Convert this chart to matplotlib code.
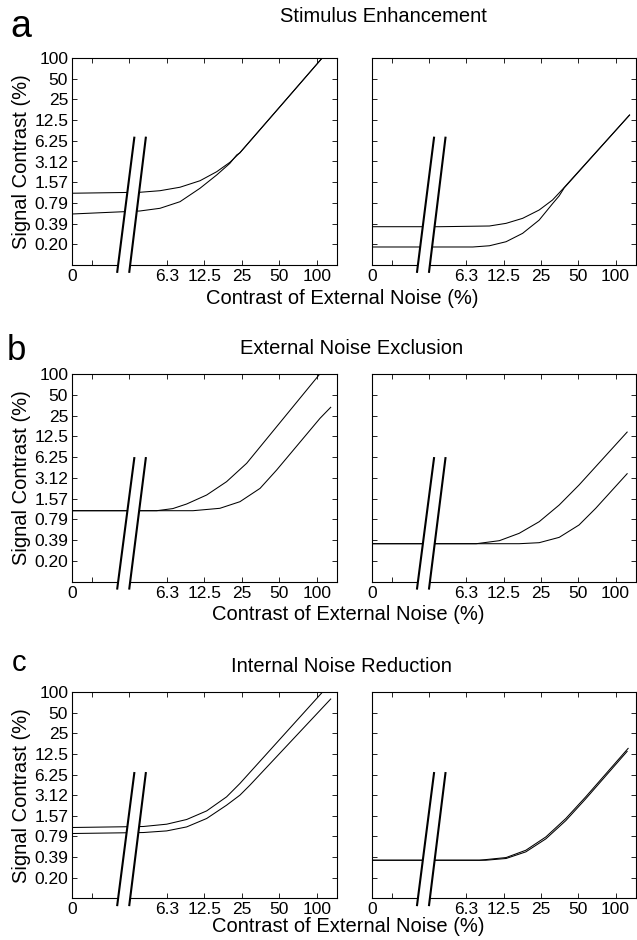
import matplotlib
matplotlib.use("Agg")
import matplotlib.pyplot as plt
from matplotlib.patches import Polygon
from matplotlib.ticker import NullLocator, FixedLocator, FixedFormatter

plt.rcParams['font.family'] = ['Liberation Sans', 'DejaVu Sans']

# ---------------- data ----------------
x_ticks = [1.092, 1.5625, 3.125, 6.25, 12.5, 25, 50, 100]
x_tick_labels = ["0", "", "", "6.3", "12.5", "25", "50", "100"]
y_ticks = [100, 50, 25, 12.5, 6.25, 3.125, 1.5625, 0.78125, 0.390625, 0.1953125]
y_tick_labels = ["100", "50", "25", "12.5", "6.25", "3.12", "1.57", "0.79", "0.39", "0.20"]

row_titles = ["Stimulus Enhancement", "External Noise Exclusion", "Internal Noise Reduction"]
row_letters = ["a", "b", "c"]
x_label = "Contrast of External Noise (%)"
y_label = "Signal Contrast (%)"

# row a
a_left_x1 = [1.09, 3.81, 5.52, 7.99, 11.56, 15.75, 20.1, 24.2, 56.4, 129.5]
a_left_y1 = [1.08, 1.115, 1.175, 1.32, 1.64, 2.22, 3.04, 4.2, 24.5, 139]
a_left_x2 = [1.09, 3.81, 5.52, 7.99, 11.56, 15.75, 20.1, 22.8, 24.2, 56.4, 129.5]
a_left_y2 = [0.539, 0.596, 0.652, 0.813, 1.274, 1.99, 2.94, 3.89, 4.18, 24.4, 139]
a_right_x1 = [1.09, 3.81, 9.61, 13.09, 17.8, 24.2, 31.0, 37.3, 129.5]
a_right_y1 = [0.352, 0.352, 0.3605, 0.394, 0.466, 0.616, 0.861, 1.23, 14.8]
a_right_x2 = [1.09, 7.06, 9.61, 13.09, 17.8, 24.2, 31.0, 35.1, 38.5, 129.5]
a_right_y2 = [0.1785, 0.1785, 0.186, 0.213, 0.282, 0.44, 0.76, 0.99, 1.29, 14.8]

# row b
b_left_x1 = [1.09, 5.19, 7.0, 9.04, 13.09, 18.9, 27.4, 104.3, 129.5]
b_left_y1 = [1.044, 1.044, 1.12, 1.306, 1.764, 2.75, 5.08, 96.7, 155.9]
b_left_x2 = [1.09, 10.16, 16.7, 24.2, 35.1, 47.7, 106.3, 129.5]
b_left_y2 = [1.044, 1.044, 1.131, 1.41, 2.2, 4.06, 22.8, 32.9]
b_right_x1 = [1.09, 7.52, 11.56, 16.7, 24.2, 35.1, 50.7, 123.9]
b_right_y1 = [0.347, 0.347, 0.384, 0.491, 0.723, 1.263, 2.46, 14.4]
b_right_x2 = [1.09, 16.7, 24.2, 35.1, 50.7, 69.1, 123.9]
b_right_y2 = [0.347, 0.347, 0.359, 0.429, 0.648, 1.13, 3.59]

# row c
c_left_x1 = [1.09, 4.06, 6.25, 9.04, 13.09, 18.9, 24.2, 103, 129.5]
c_left_y1 = [1.054, 1.09, 1.178, 1.379, 1.842, 2.95, 4.63, 85.4, 135.4]
c_left_x2 = [1.09, 4.06, 6.25, 9.04, 13.09, 18.9, 24.2, 29.1, 129.5]
c_left_y2 = [0.861, 0.89, 0.94, 1.075, 1.427, 2.23, 3.125, 4.37, 79]
c_right_x1 = [1.09, 7.99, 13.09, 18.9, 27.4, 39.7, 57.4, 126.2]
c_right_y1 = [0.351, 0.351, 0.384, 0.491, 0.768, 1.427, 2.95, 15.04]
c_right_x2 = [1.09, 9.0, 13.09, 18.9, 27.4, 39.7, 57.4, 123.9]
c_right_y2 = [0.351, 0.351, 0.372, 0.465, 0.72, 1.33, 2.76, 13.6]

panels = [
    [((a_left_x1, a_left_y1), (a_left_x2, a_left_y2)),
     ((a_right_x1, a_right_y1), (a_right_x2, a_right_y2))],
    [((b_left_x1, b_left_y1), (b_left_x2, b_left_y2)),
     ((b_right_x1, b_right_y1), (b_right_x2, b_right_y2))],
    [((c_left_x1, c_left_y1), (c_left_x2, c_left_y2)),
     ((c_right_x1, c_right_y1), (c_right_x2, c_right_y2))],
]

# ---------------- layout ----------------
W, H = 637, 940
fig = plt.figure(figsize=(W / 100, H / 100), dpi=100)

row_px = [(58, 265), (374, 581.7), (692, 898.3)]
col_px = [(72.3, 336.7), (372.3, 635.5)]
break_top = [0.615, 0.595, 0.607]
xlim = (1.092, 144.7)
ylim = (100 / 2 ** 10, 100)

title_pos = [(383, 17), (352, 349), (341, 667)]
xlabel_pos = [(342, 298), (348, 614), (348, 926)]
letter_pos = [(21, 27, 27), (16, 350, 25), (19, 663, 21)]

for r in range(3):
    top, bot = row_px[r]
    for c in range(2):
        l, rr = col_px[c]
        ax = fig.add_axes([l / W, 1 - bot / H, (rr - l) / W, (bot - top) / H])
        ax.set_xscale('log', base=2)
        ax.set_yscale('log', base=2)
        ax.set_xlim(*xlim)
        ax.set_ylim(*ylim)
        for (xs, ys) in panels[r][c]:
            ax.plot(xs, ys, color='black', lw=0.75, zorder=2)
        ax.xaxis.set_major_locator(FixedLocator(x_ticks))
        ax.xaxis.set_major_formatter(FixedFormatter(x_tick_labels))
        ax.xaxis.set_minor_locator(NullLocator())
        ax.yaxis.set_major_locator(FixedLocator(y_ticks))
        ax.yaxis.set_minor_locator(NullLocator())
        if c == 0:
            ax.yaxis.set_major_formatter(FixedFormatter(y_tick_labels))
        else:
            ax.yaxis.set_major_formatter(FixedFormatter([""] * len(y_ticks)))
        ax.tick_params(which='both', direction='in', top=True, right=True,
                       length=3.5, width=0.6, labelsize=12.5, pad=3)
        for s in ax.spines.values():
            s.set_linewidth(0.8)
        # axis break
        bt = break_top[r]
        x1b, x1t, x2b, x2t, yb = 0.170, 0.2345, 0.2156, 0.278, -0.033
        poly = Polygon([(x1b, yb), (x1t, bt), (x2t, bt), (x2b, yb)],
                       closed=True, facecolor='white', edgecolor='none',
                       transform=ax.transAxes, clip_on=False, zorder=3)
        ax.add_patch(poly)
        ax.plot([x1b, x1t], [yb, bt], color='black', lw=1.5,
                transform=ax.transAxes, clip_on=False, zorder=4)
        ax.plot([x2b, x2t], [yb, bt], color='black', lw=1.5,
                transform=ax.transAxes, clip_on=False, zorder=4)

    tx, ty = title_pos[r]
    fig.text(tx / W, 1 - ty / H, row_titles[r], ha='center', va='center', fontsize=14.5)
    lx, ly = xlabel_pos[r]
    fig.text(lx / W, 1 - ly / H, x_label, ha='center', va='center', fontsize=14.5)
    fig.text(22 / W, 1 - (top + bot) / 2 / H, y_label, ha='center', va='center',
             rotation=90, fontsize=14.5)
    px, py, fs = letter_pos[r]
    fig.text(px / W, 1 - py / H, row_letters[r], ha='center', va='center', fontsize=fs)

fig.savefig("out.png", dpi=100)
